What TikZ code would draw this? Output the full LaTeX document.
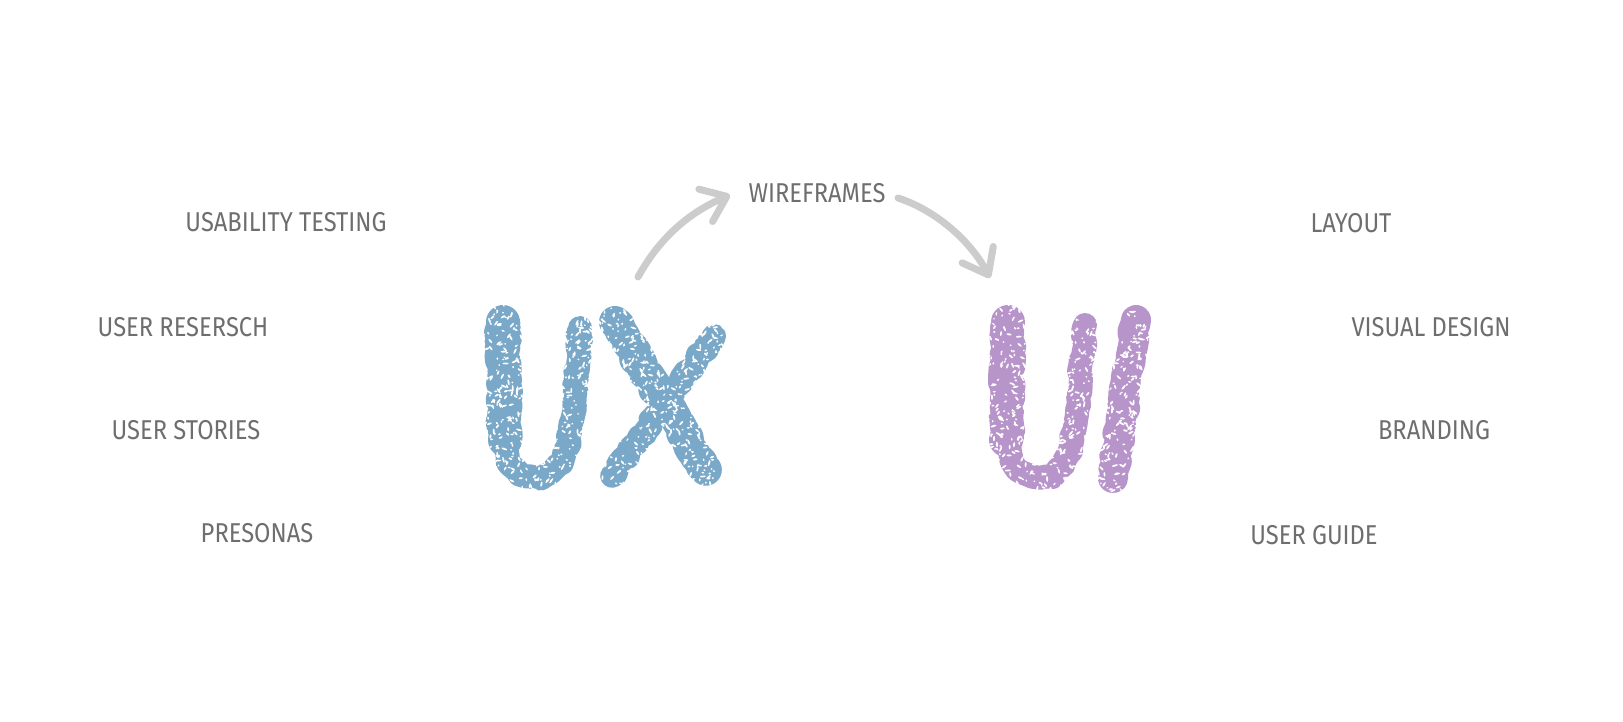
\documentclass[tikz,border=0pt]{standalone}
\usepackage{fontspec}
\newfontfamily\hand[FakeStretch=0.87]{Fira Sans}
\usetikzlibrary{arrows.meta,decorations.pathmorphing}
\definecolor{uxblue}{RGB}{122,168,200}
\definecolor{uipurple}{RGB}{183,148,201}
\definecolor{labelgray}{RGB}{110,110,110}
\definecolor{arrowgray}{RGB}{204,204,204}
\begin{document}
\begin{tikzpicture}[x=0.02cm,y=-0.02cm,
  lbl/.style={font=\hand\fontsize{15.5}{18}\selectfont, text=labelgray, inner sep=0pt},
  chalk/.style={line cap=round, line join=round,
    decorate, decoration={random steps, segment length=3pt, amplitude=1.2pt}},
  flow/.style={draw=arrowgray, line width=4pt, line cap=round,
    -{Straight Barb[length=13pt,width=20pt,round]}}]
\fill[white] (0,0) rectangle (1623,721);
\useasboundingbox (0,0) rectangle (1623,721);
\pgfmathsetseed{11}
% UX letters
\begin{scope}[uxblue]
  \draw[chalk, line width=24*0.02cm] (503,320) -- (503,430) .. controls (505,470) and (520,477) .. (535,477)
     .. controls (555,477) and (568,460) .. (572,420) -- (580,328);
  \draw[chalk, line width=34*0.02cm] (503,322) -- (505,440);
  \draw[chalk, line width=32*0.02cm] (615,322) -- (706,470);
  \draw[chalk, line width=24*0.02cm] (714,336) -- (612,476);
\end{scope}
% UI letters
\begin{scope}[uipurple]
  \draw[chalk, line width=24*0.02cm] (1010,320) -- (1005,430) .. controls (1008,470) and (1025,477) .. (1040,477)
     .. controls (1060,477) and (1072,455) .. (1076,420) -- (1085,325);
  \draw[chalk, line width=34*0.02cm] (1008,322) -- (1006,440);
  \draw[chalk, line width=30*0.02cm] (1136,320) -- (1113,478);
\end{scope}
% chalk texture
\foreach \i in {1,...,1400}{
  \pgfmathsetmacro\xx{470+270*rnd}
  \pgfmathsetmacro\yy{298+198*rnd}
  \pgfmathsetmacro\ww{0.5+1.3*rnd}
  \pgfmathsetmacro\rr{360*rnd}
  \fill[white, rotate around={\rr:(\xx,\yy)}] (\xx,\yy) ellipse [x radius=\ww pt, y radius=0.55pt];
}
\foreach \i in {1,...,950}{
  \pgfmathsetmacro\xx{978+185*rnd}
  \pgfmathsetmacro\yy{298+198*rnd}
  \pgfmathsetmacro\ww{0.5+1.3*rnd}
  \pgfmathsetmacro\rr{360*rnd}
  \fill[white, rotate around={\rr:(\xx,\yy)}] (\xx,\yy) ellipse [x radius=\ww pt, y radius=0.55pt];
}

% named anchors of the letter groups
\coordinate (uxtop) at (638,277);
\coordinate (uitop) at (990,278);
\node[lbl] (wf) at (817,193) {WIREFRAMES};
\coordinate (wfin) at (730,195);
\coordinate (wfout) at (898,198);

\draw[flow] (uxtop) .. controls (660,237) and (690,212) .. (wfin);
\draw[flow] (wfout) .. controls (935,210) and (970,240) .. (uitop);

% UX labels
\node[lbl] (ut) at (286,222) {USABILITY TESTING};
\node[lbl] (ur) at (183,327) {USER RESERSCH};
\node[lbl] (us) at (186,430) {USER STORIES};
\node[lbl] (pe) at (257,533) {PRESONAS};
% UI labels
\node[lbl] (la) at (1351,223) {LAYOUT};
\node[lbl] (vd) at (1431,327) {VISUAL DESIGN};
\node[lbl] (br) at (1434,430) {BRANDING};
\node[lbl] (ug) at (1314,535) {USER GUIDE};
\end{tikzpicture}
\end{document}
